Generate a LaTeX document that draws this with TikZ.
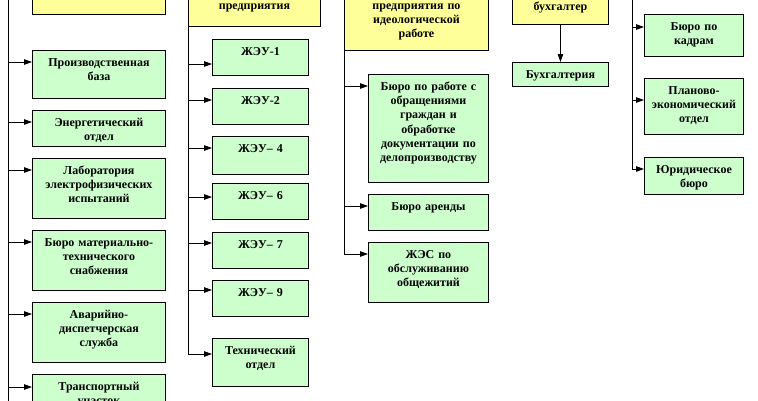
\documentclass[tikz,border=0pt]{standalone}
\usepackage{fontspec}
\setmainfont{Liberation Serif}
\usetikzlibrary{arrows.meta}
\definecolor{ybox}{HTML}{FFFF99}
\definecolor{gbox}{HTML}{CCFFCC}
\begin{document}
\begin{tikzpicture}[x=1pt,y=-1pt,
  boxbase/.style={draw=black, line width=0.9pt, inner sep=0pt, anchor=north west},
  ybx/.style={boxbase, fill=ybox},
  gbx/.style={boxbase, fill=gbox},
  lbl/.style={anchor=base, inner sep=0pt, align=center, font=\fontsize{12}{14.2}\selectfont\bfseries},
  conn/.style={line width=0.9pt},
  arr/.style={conn, -{Triangle[length=8pt,width=5.5pt]}}]
\useasboundingbox (0,0) rectangle (758,400);
\fill[white] (0,0) rectangle (758,400);
\clip (0,0) rectangle (758,400);

% ---------- top (cut-off) boxes
\node[ybx, minimum width=133pt, minimum height=54pt] (Y1) at (32,-40) {};
\node[ybx, minimum width=132pt, minimum height=66pt] (Y2) at (188,-40) {};
\node[ybx, minimum width=144pt, minimum height=90pt] (Y3) at (344,-40) {};
\node[ybx, minimum width=96pt, minimum height=64pt] (Y4) at (512,-40) {};
\node[lbl, text width=128pt] (Y2T) at ([yshift=17pt]Y2.south) {предприятия};
\node[lbl, text width=140pt] (Y3T) at ([yshift=41.5pt]Y3.south) {предприятия по\\идеологической\\работе};
\node[lbl, text width=92pt] (Y4T) at ([yshift=14.5pt]Y4.south) {бухгалтер};

% ---------- column 1
\node[gbx, minimum width=133pt, minimum height=48pt] (pb) at (32,50) {};
\node[gbx, minimum width=133pt, minimum height=36pt] (en) at (32,110) {};
\node[gbx, minimum width=133pt, minimum height=60pt] (lab) at (32,158) {};
\node[gbx, minimum width=133pt, minimum height=60pt] (mts) at (32,230) {};
\node[gbx, minimum width=133pt, minimum height=60pt] (ads) at (32,302) {};
\node[gbx, minimum width=133pt, minimum height=60pt] (tr) at (32,374) {};
\node[lbl, text width=131pt] (pbT) at ([yshift=-16.5pt]pb.north) {Производственная\\база};
\node[lbl, text width=131pt] (enT) at ([yshift=-16.5pt]en.north) {Энергетический\\отдел};
\node[lbl, text width=131pt] (labT) at ([yshift=-16.5pt]lab.north) {Лаборатория\\электрофизических\\испытаний};
\node[lbl, text width=131pt] (mtsT) at ([yshift=-16.5pt]mts.north) {Бюро материально-\\технического\\снабжения};
\node[lbl, text width=131pt] (adsT) at ([yshift=-16.5pt]ads.north) {Аварийно-\\диспетчерская\\служба};
\node[lbl, text width=131pt] (trT) at ([yshift=-16.5pt]tr.north) {Транспортный\\участок};

\coordinate (L1top) at (8,-5);
\coordinate (L1bot) at (8,405);
\draw[conn] (L1top) -- (L1bot);
\coordinate (pbA) at ([yshift=-12pt]pb.north west);
\coordinate (enA) at ([yshift=-12pt]en.north west);
\coordinate (labA) at ([yshift=-12pt]lab.north west);
\coordinate (mtsA) at ([yshift=-12pt]mts.north west);
\coordinate (adsA) at ([yshift=-12pt]ads.north west);
\coordinate (trA) at ([yshift=-13pt]tr.north west);
\foreach \b in {pbA,enA,labA,mtsA,adsA,trA}
  \draw[arr] (L1top |- \b) -- (\b);

% ---------- column 2
\node[gbx, minimum width=96pt, minimum height=36pt] (zh1) at (212,39) {};
\node[gbx, minimum width=96pt, minimum height=36pt] (zh2) at (212,88) {};
\node[gbx, minimum width=96pt, minimum height=38pt] (zh4) at (212,136) {};
\node[gbx, minimum width=96pt, minimum height=36pt] (zh6) at (212,183) {};
\node[gbx, minimum width=96pt, minimum height=36pt] (zh7) at (212,232) {};
\node[gbx, minimum width=96pt, minimum height=36pt] (zh9) at (212,280) {};
\node[gbx, minimum width=96pt, minimum height=48pt] (tech) at (212,338) {};
\node[lbl, text width=94pt] (zh1T) at ([yshift=-16.5pt]zh1.north) {ЖЭУ-1};
\node[lbl, text width=94pt] (zh2T) at ([yshift=-16.5pt]zh2.north) {ЖЭУ-2};
\node[lbl, text width=94pt] (zh4T) at ([yshift=-16.5pt]zh4.north) {ЖЭУ– 4};
\node[lbl, text width=94pt] (zh6T) at ([yshift=-16.5pt]zh6.north) {ЖЭУ– 6};
\node[lbl, text width=94pt] (zh7T) at ([yshift=-16.5pt]zh7.north) {ЖЭУ– 7};
\node[lbl, text width=94pt] (zh9T) at ([yshift=-16.5pt]zh9.north) {ЖЭУ– 9};
\node[lbl, text width=94pt] (techT) at ([yshift=-16.5pt]tech.north) {Технический\\отдел};

\coordinate (zh1A) at ([yshift=-25pt]zh1.north west);
\coordinate (zh2A) at ([yshift=-12pt]zh2.north west);
\coordinate (zh4A) at ([yshift=-12pt]zh4.north west);
\coordinate (zh6A) at ([yshift=-14pt]zh6.north west);
\coordinate (zh7A) at ([yshift=-11pt]zh7.north west);
\coordinate (zh9A) at ([yshift=-10pt]zh9.north west);
\coordinate (techA) at ([yshift=-16pt]tech.north west);
\draw[conn] (Y2.south west) -- (Y2.south west |- techA);
\foreach \b in {zh1A,zh2A,zh4A,zh6A,zh7A,zh9A,techA}
  \draw[arr] (Y2.south west |- \b) -- (\b);

% ---------- column 3
\node[gbx, minimum width=120pt, minimum height=108pt] (obr) at (368,74) {};
\node[gbx, minimum width=120pt, minimum height=36pt] (ar) at (368,194) {};
\node[gbx, minimum width=120pt, minimum height=60pt] (zhes) at (368,242) {};
\node[lbl, text width=118pt] (obrT) at ([yshift=-16.5pt]obr.north) {Бюро по работе с\\обращениями\\граждан и\\обработке\\документации по\\делопроизводству};
\node[lbl, text width=118pt] (arT) at ([yshift=-16.5pt]ar.north) {Бюро аренды};
\node[lbl, text width=118pt] (zhesT) at ([yshift=-16.5pt]zhes.north) {ЖЭС по\\обслуживанию\\общежитий};
\coordinate (obrA) at ([yshift=-12pt]obr.north west);
\coordinate (arA) at ([yshift=-12pt]ar.north west);
\coordinate (zhesA) at ([yshift=-12pt]zhes.north west);
\draw[conn] (Y3.south west) -- (Y3.south west |- zhesA);
\foreach \b in {obrA,arA,zhesA}
  \draw[arr] (Y3.south west |- \b) -- (\b);

% ---------- column 4
\node[gbx, minimum width=96pt, minimum height=24pt] (buh) at (512,62) {};
\node[lbl, text width=94pt] (buhT) at ([yshift=-16pt]buh.north) {Бухгалтерия};
\draw[arr] (Y4.south) -- (buh.north);

% ---------- column 5
\node[gbx, minimum width=99pt, minimum height=42pt] (kadr) at (644,14) {};
\node[gbx, minimum width=99pt, minimum height=56pt] (plan) at (644,78) {};
\node[gbx, minimum width=99pt, minimum height=37pt] (jur) at (644,157) {};
\node[lbl, text width=97pt] (kadrT) at ([yshift=-16.5pt]kadr.north) {Бюро по\\кадрам};
\node[lbl, text width=97pt] (planT) at ([yshift=-16.5pt]plan.north) {Планово-\\экономический\\отдел};
\node[lbl, text width=97pt] (jurT) at ([yshift=-16.5pt]jur.north) {Юридическое\\бюро};
\coordinate (R5top) at (632,-5);
\coordinate (kadrA) at ([yshift=-13pt]kadr.north west);
\coordinate (planA) at ([yshift=-22pt]plan.north west);
\coordinate (jurA) at ([yshift=-12pt]jur.north west);
\draw[conn] (R5top) -- (R5top |- jurA);
\foreach \b in {kadrA,planA,jurA}
  \draw[arr] (R5top |- \b) -- (\b);
\end{tikzpicture}
\end{document}
